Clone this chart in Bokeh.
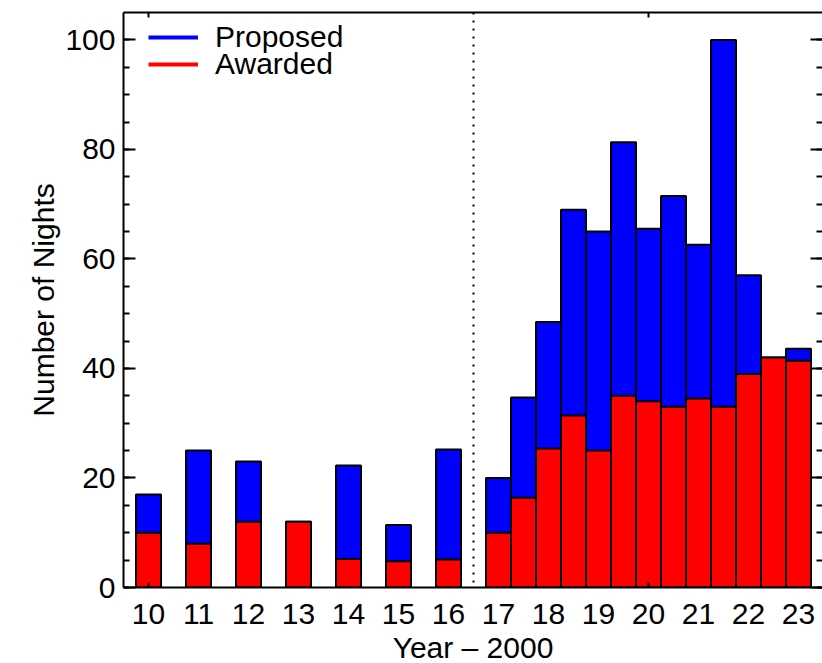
from bokeh.plotting import figure
from bokeh.models import (FixedTicker, LinearAxis, Span, Legend, LegendItem,
                          Range1d, ColumnDataSource)
from bokeh.embed import file_html
from bokeh.resources import INLINE

# ---- data (year - 2000); annual values to 2016, semesters (A/B) from 2017 ----
period = [10, 11, 12, 13, 14, 15, 16,
          17.0, 17.5, 18.0, 18.5, 19.0, 19.5, 20.0, 20.5, 21.0, 21.5, 22.0, 22.5, 23.0]
proposed = [17, 25, 23, 12, 22.3, 11.4, 25.2,
            20, 34.7, 48.5, 69, 65, 81.3, 65.5, 71.5, 62.6, 100, 57, 42, 43.6]
awarded = [10, 8, 12, 12, 5.2, 4.8, 5.1,
           10, 16.4, 25.4, 31.4, 25, 35, 34, 33, 34.5, 33, 39, 42, 41.4]
year_ticks = list(range(10, 24))
y_major = [0, 20, 40, 60, 80, 100]
y_minor = list(range(0, 105, 5))
split_year = 16.5
series_names = ["Proposed", "Awarded"]

FONT = "Liberation Sans"
FS = "30px"
BLUE = "#0000ff"
RED = "#ff0000"
NAN = float("nan")

src = ColumnDataSource(dict(period=period, proposed=proposed, awarded=awarded))

p = figure(frame_width=699, frame_height=575,
           x_range=Range1d(9.5, 23.48), y_range=Range1d(0, 105),
           output_backend="svg", toolbar_location=None,
           min_border_left=123, min_border_top=12, min_border_right=0,
           min_border_bottom=0, outline_line_color=None,
           background_fill_color="white", border_fill_color="white")
p.xgrid.visible = False
p.ygrid.visible = False

p.vbar(x="period", width=0.5, top="proposed", bottom=0, source=src,
       fill_color=BLUE, line_color="black", line_width=2)
p.vbar(x="period", width=0.5, top="awarded", bottom=0, source=src,
       fill_color=RED, line_color="black", line_width=2)

p.add_layout(Span(location=split_year, dimension="height", line_color="black",
                  line_width=2, line_dash="2 6"))

# bottom axis
xa = p.xaxis[0]
xa.ticker = FixedTicker(ticks=year_ticks, minor_ticks=[10, 20])
xa.major_tick_line_color = None
xa.major_tick_in = 0
xa.major_tick_out = 0
xa.minor_tick_in = 5
xa.minor_tick_out = 0
xa.minor_tick_line_width = 2
xa.minor_tick_line_color = "black"
xa.axis_line_width = 2
xa.axis_line_color = "black"
xa.major_label_text_font = FONT
xa.major_label_text_font_size = FS
xa.major_label_text_color = "black"
xa.major_label_standoff = 16
xa.axis_label = "Year \u2013 2000"
xa.axis_label_text_font = FONT
xa.axis_label_text_font_size = FS
xa.axis_label_text_font_style = "normal"
xa.axis_label_text_color = "black"
xa.axis_label_standoff = 4

# left axis
ya = p.yaxis[0]
ya.ticker = FixedTicker(ticks=y_major, minor_ticks=y_minor)
ya.major_tick_in = 12
ya.major_tick_out = 0
ya.minor_tick_in = 6
ya.minor_tick_out = 0
ya.major_tick_line_width = 2
ya.minor_tick_line_width = 2
ya.major_tick_line_color = "black"
ya.minor_tick_line_color = "black"
ya.axis_line_width = 2
ya.axis_line_color = "black"
ya.major_label_text_font = FONT
ya.major_label_text_font_size = FS
ya.major_label_text_color = "black"
ya.major_label_standoff = 8
ya.axis_label = "Number of Nights"
ya.axis_label_text_font = FONT
ya.axis_label_text_font_size = FS
ya.axis_label_text_font_style = "normal"
ya.axis_label_text_color = "black"
ya.axis_label_standoff = 2

# top axis (ticks only)
top = LinearAxis(ticker=FixedTicker(ticks=[10, 20], minor_ticks=[]),
                 major_tick_in=5, major_tick_out=0, minor_tick_in=0, minor_tick_out=0,
                 major_tick_line_width=2, axis_line_width=2,
                 major_label_text_font_size="0px", major_label_text_color=None,
                 major_label_standoff=0)
p.add_layout(top, "above")

# right axis (ticks only; its line falls just outside the picture in the reference)
right = LinearAxis(ticker=FixedTicker(ticks=y_major, minor_ticks=y_minor),
                   major_tick_in=12, major_tick_out=0, minor_tick_in=6, minor_tick_out=0,
                   major_tick_line_width=2, minor_tick_line_width=2,
                   axis_line_color=None,
                   major_label_text_font_size="0px", major_label_text_color=None,
                   major_label_standoff=0)
p.add_layout(right, "right")

# legend (line samples), one legend per row for tight row spacing
lb = p.line(x=[NAN], y=[NAN], line_color=BLUE, line_width=4)
lr = p.line(x=[NAN], y=[NAN], line_color=RED, line_width=4)
for name, rend, ypos in [(series_names[0], lb, 533), (series_names[1], lr, 506)]:
    leg = Legend(items=[LegendItem(label=name, renderers=[rend])],
                 location=(25, ypos), padding=0, margin=0, spacing=0,
                 glyph_width=50, glyph_height=20, label_height=20,
                 label_standoff=17, label_text_font=FONT, label_text_font_size=FS,
                 label_text_color="black", background_fill_alpha=0,
                 border_line_color=None)
    p.add_layout(leg)

open("out.html", "w").write(file_html(p, INLINE))
